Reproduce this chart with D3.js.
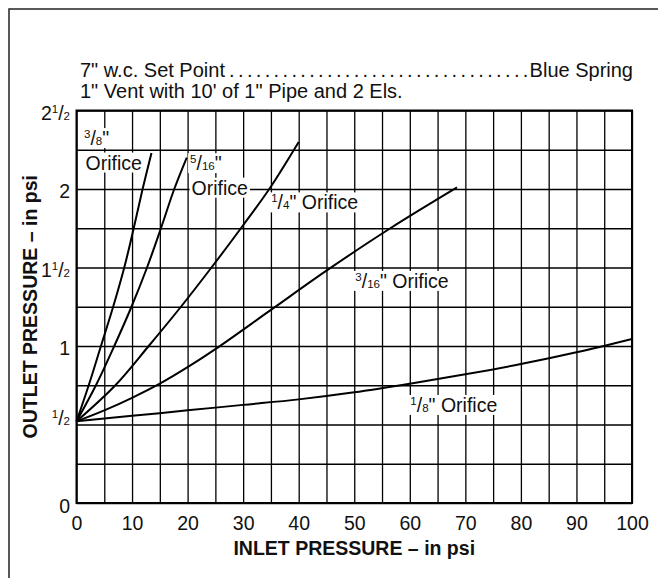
<!DOCTYPE html>
<html lang="en">
<head>
<meta charset="UTF-8">
<title>Outlet pressure vs inlet pressure</title>
<style>
  body { margin: 0; background: #fff; }
  svg text { font-family: "Liberation Sans", Arial, Helvetica, sans-serif; fill: #111; }
</style>
</head>
<body>
<div id="chart"></div>
<script src="https://cdn.jsdelivr.net/npm/d3@7"></script>
<script>
// sizes
const WIDTH = 658, HEIGHT = 578;
const MARGIN = { top: 110.5, right: 26, bottom: 75, left: 76.5 };
const FONT = 19.5, SMALL = 11.5, LIFT = 7;

// texts
const titleLeft = '7" w.c. Set Point';
const titleRight = 'Blue Spring';
const titleLine2 = '1" Vent with 10\' of 1" Pipe and 2 Els.';
const xTitle = "INLET PRESSURE \u2013 in psi";
const yTitle = "OUTLET PRESSURE \u2013 in psi";

// ticks
const xTicks = [0, 10, 20, 30, 40, 50, 60, 70, 80, 90, 100];
const xGrid = d3.range(0, 101, 5);
const yTicks = [0, 0.5, 1, 1.5, 2, 2.5];
const yTickLabels = ["0", "1/2", "1", "1 1/2", "2", "2 1/2"];
const yGrid = d3.range(0, 2.51, 0.25);

// curves (inlet psi -> outlet psi)
const orifices = ['3/8"', '5/16"', '1/4"', '3/16"', '1/8"'];
const inlet38 = [0, 2.2, 4.4, 6.6, 8.6, 10.3, 11.9, 13.5];
const outlet38 = [0.52, 0.75, 1.0, 1.25, 1.5, 1.75, 2.0, 2.23];
const inlet516 = [0, 3.5, 6.8, 9.9, 12.7, 15.2, 17.6, 19.85];
const outlet516 = [0.52, 0.75, 1.0, 1.25, 1.5, 1.75, 2.0, 2.2];
const inlet14 = [0, 7, 13, 18.8, 24.3, 29.6, 34.7, 40];
const outlet14 = [0.52, 0.75, 1.0, 1.25, 1.5, 1.75, 2.0, 2.3];
const inlet316 = [0, 5, 10, 15, 20, 25, 35, 45, 56.5, 68.5];
const outlet316 = [0.52, 0.59, 0.67, 0.76, 0.865, 0.98, 1.23, 1.48, 1.75, 2.01];
const inlet18 = [0, 10, 20, 30, 40, 50, 60, 70, 80, 90, 100];
const outlet18 = [0.52, 0.555, 0.59, 0.625, 0.66, 0.705, 0.76, 0.82, 0.885, 0.96, 1.045];

// curve labels
const labelLines = [['3/8"', 'Orifice'], ['5/16"', 'Orifice'], ['1/4" Orifice'], ['3/16" Orifice'], ['1/8" Orifice']];
const labelAt = [[1.35, 2.28], [20.45, 2.12], [35.05, 1.87], [50.2, 1.37], [60.1, 0.58]]; // data units, first baseline

const series = [
  [inlet38, outlet38], [inlet516, outlet516], [inlet14, outlet14], [inlet316, outlet316], [inlet18, outlet18]
].map(([xs, ys], i) => ({ name: orifices[i], points: xs.map((x, j) => [x, ys[j]]) }));

const svg = d3.select("#chart").append("svg")
  .attr("width", WIDTH).attr("height", HEIGHT);

const x = d3.scaleLinear().domain([0, 100]).range([MARGIN.left, WIDTH - MARGIN.right]);
const y = d3.scaleLinear().domain([0, 2.5]).range([HEIGHT - MARGIN.bottom, MARGIN.top]);
const plotH = y(0) - y(2.5), plotW = x(100) - x(0);

// page frame (top and left edge only)
svg.append("path")
  .attr("d", `M9,${HEIGHT} V9 H${WIDTH}`)
  .attr("fill", "none").attr("stroke", "#222").attr("stroke-width", 1.5);

// fraction writer: "1 1/2", '3/8"', '1/4" Orifice'
function writeFraction(text, str) {
  const m = str.match(/^(?:(\d+)\s)?(\d+)\/(\d+)(.*)$/);
  text.text(null);
  if (!m) { text.text(str); return; }
  if (m[1]) text.append("tspan").text(m[1]);
  text.append("tspan").attr("font-size", SMALL).attr("dy", -LIFT).text(m[2]);
  text.append("tspan").attr("dy", LIFT).text("/");
  text.append("tspan").attr("font-size", SMALL).text(m[3]);
  if (m[4]) text.append("tspan").text(m[4]);
}

// grid
const grid = svg.append("g").attr("class", "grid");
grid.append("g")
  .attr("transform", `translate(0,${y(0)})`)
  .call(d3.axisBottom(x).tickValues(xGrid).tickSize(-plotH).tickFormat(""))
  .call(g => g.select(".domain").remove());
grid.append("g")
  .attr("transform", `translate(${x(0)},0)`)
  .call(d3.axisLeft(y).tickValues(yGrid).tickSize(-plotW).tickFormat(""))
  .call(g => g.select(".domain").remove());
grid.selectAll("line").attr("stroke", "#000").attr("stroke-width", 1.3);
svg.append("rect")
  .attr("x", x(0)).attr("y", y(2.5)).attr("width", plotW).attr("height", plotH)
  .attr("fill", "none").attr("stroke", "#000").attr("stroke-width", 2);

// tick labels
svg.append("g")
  .attr("transform", `translate(0,${y(0)})`)
  .call(d3.axisBottom(x).tickValues(xTicks).tickSize(0).tickPadding(13))
  .call(g => g.select(".domain").remove())
  .selectAll("text").attr("font-size", FONT).attr("fill", "#111");

const yAxis = svg.append("g")
  .attr("transform", `translate(${x(0)},0)`)
  .call(d3.axisLeft(y).tickValues(yTicks).tickSize(0).tickPadding(6.5))
  .call(g => g.select(".domain").remove());
yAxis.selectAll("text")
  .attr("font-size", FONT).attr("fill", "#111").attr("dy", "0.45em")
  .each(function (d) { writeFraction(d3.select(this), yTickLabels[yTicks.indexOf(d)]); });
yAxis.selectAll(".tick text").filter(d => d === 0).attr("dy", "0.5em");

// layers for labels and curves
const boxLayer = svg.append("g");
const curveLayer = svg.append("g");
const textLayer = svg.append("g");

const line = d3.line()
  .x(d => x(d[0])).y(d => y(d[1]))
  .curve(d3.curveCatmullRom.alpha(0.5));

curveLayer.selectAll("path")
  .data(series)
  .join("path")
  .attr("d", d => line(d.points))
  .attr("fill", "none").attr("stroke", "#000").attr("stroke-width", 2);

labelLines.forEach((lines, i) => {
  const [lx, ly] = labelAt[i];
  lines.forEach((str, k) => {
    const t = textLayer.append("text")
      .attr("x", x(lx) + (k ? 1.5 : 0))
      .attr("y", y(ly) + k * 24.5)
      .attr("font-size", FONT);
    writeFraction(t, str);
    const b = t.node().getBBox();
    boxLayer.append("rect")
      .attr("x", b.x - 2).attr("y", b.y + 1)
      .attr("width", b.width + 4).attr("height", b.height - 2)
      .attr("fill", "#fff");
  });
});

// title block with dot leader
const TFONT = 20;
const tl = svg.append("text").attr("x", 80).attr("y", 77).attr("font-size", TFONT).text(titleLeft);
const tr = svg.append("text").attr("x", x(100) + 1).attr("y", 77).attr("font-size", TFONT)
  .attr("text-anchor", "end").text(titleRight);
const leftEnd = 80 + tl.node().getComputedTextLength();
const rightStart = x(100) + 1 - tr.node().getComputedTextLength();
const dotStep = 8.9;
const nDots = Math.floor((rightStart - leftEnd - 2) / dotStep);
svg.append("g").selectAll("text")
  .data(d3.range(nDots))
  .join("text")
  .attr("x", d => rightStart - 4 - (nDots - 1 - d) * dotStep)
  .attr("y", 77).attr("font-size", TFONT).attr("text-anchor", "middle")
  .text(".");
svg.append("text").attr("x", 80).attr("y", 98).attr("font-size", TFONT).text(titleLine2);

// axis titles
svg.append("text")
  .attr("x", (x(0) + x(100)) / 2).attr("y", 555)
  .attr("text-anchor", "middle").attr("font-size", FONT).attr("font-weight", "bold")
  .text(xTitle);
svg.append("text")
  .attr("transform", `translate(37,${(y(0) + y(2.5)) / 2}) rotate(-90)`)
  .attr("text-anchor", "middle").attr("font-size", FONT).attr("font-weight", "bold")
  .text(yTitle);
</script>
</body>
</html>
